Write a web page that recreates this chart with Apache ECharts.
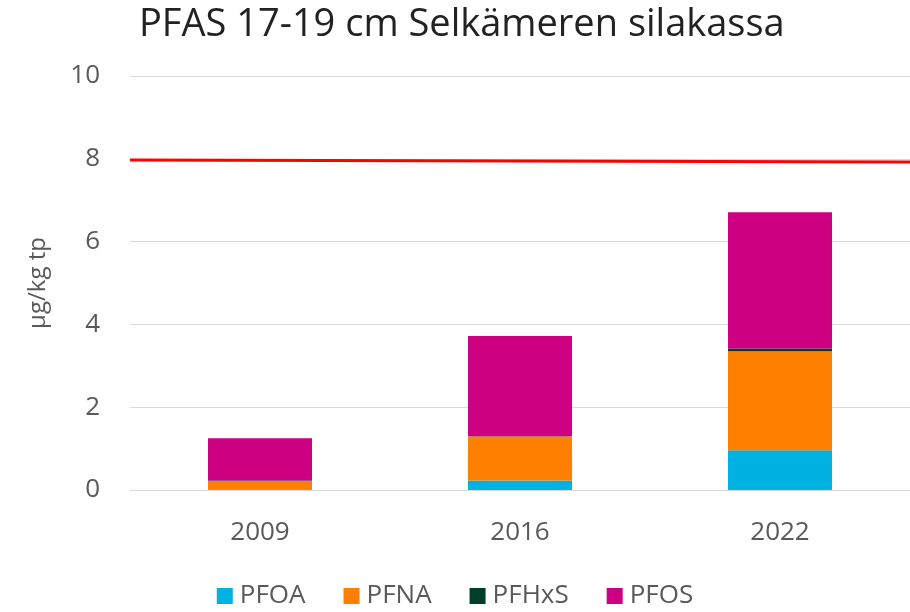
<!DOCTYPE html>
<html>
<head>
<meta charset="utf-8">
<script src="https://cdn.jsdelivr.net/npm/echarts@6/dist/echarts.min.js"></script>
<style>
  html, body { margin: 0; padding: 0; background: #fff; }
  #chart { width: 910px; height: 612px; }
</style>
</head>
<body>
<div id="chart"></div>
<script>
  // vuodet ja pitoisuudet (µg/kg tp)
  var years = ['2009', '2016', '2022'];
  var pfoa  = [0.02, 0.23, 0.96];
  var pfna  = [0.20, 1.06, 2.39];
  var pfhxs = [0.01, 0.01, 0.07];
  var pfos  = [1.02, 2.42, 3.29];
  var limitLine = [[0, 7.97], [1, 7.92]];  // raja-arvo, hieman kalteva kuten kuvassa
  var yTicks = [0, 2, 4, 6, 8, 10];

  var chart = echarts.init(document.getElementById('chart'));
  var font = 'Open Sans, Liberation Sans, sans-serif';

  function bar(name, data, color) {
    return {
      name: name,
      type: 'bar',
      stack: 'pfas',
      barWidth: '40%',
      xAxisIndex: 0,
      data: data,
      itemStyle: { color: color },
      emphasis: { disabled: true }
    };
  }

  chart.setOption({
    animation: false,
    title: {
      text: 'PFAS 17-19 cm Selkämeren silakassa',
      left: 134,
      top: 1,
      textStyle: { fontFamily: font, fontSize: 38, fontWeight: 'normal', color: '#222' }
    },
    legend: {
      bottom: -2,
      left: 'center',
      itemWidth: 16,
      itemHeight: 16,
      itemGap: 38,
      icon: 'rect',
      data: ['PFOA', 'PFNA', 'PFHxS', 'PFOS'],
      textStyle: { fontFamily: font, fontSize: 26, color: '#595959', padding: [0, 0, 0, 2] }
    },
    grid: { left: 130, right: -6, top: 76, bottom: 122 },
    xAxis: [{
      type: 'category',
      data: years,
      axisLine: { lineStyle: { color: '#d9d9d9' } },
      axisTick: { show: false },
      axisLabel: { fontFamily: font, fontSize: 26, color: '#595959', margin: 30 }
    }, {
      type: 'value',
      min: 0,
      max: 1,
      show: false
    }],
    yAxis: {
      type: 'value',
      min: yTicks[0],
      max: yTicks[yTicks.length - 1],
      interval: 2,
      name: 'µg/kg tp',
      nameLocation: 'middle',
      nameGap: 80,
      nameTextStyle: { fontFamily: font, fontSize: 24, color: '#595959' },
      axisLine: { show: false },
      axisTick: { show: false },
      axisLabel: { fontFamily: font, fontSize: 26, color: '#595959', margin: 30 },
      splitLine: { lineStyle: { color: '#d9d9d9', width: 1 } }
    },
    series: [
      bar('PFOA', pfoa, '#00b2e2'),
      bar('PFNA', pfna, '#ff8000'),
      bar('PFHxS', pfhxs, '#00402a'),
      bar('PFOS', pfos, '#cc0080'),
      {
        name: 'raja',
        type: 'line',
        xAxisIndex: 1,
        data: limitLine,
        symbol: 'none',
        lineStyle: { color: '#ff0000', width: 3 },
        silent: true
      }
    ]
  });
</script>
</body>
</html>
